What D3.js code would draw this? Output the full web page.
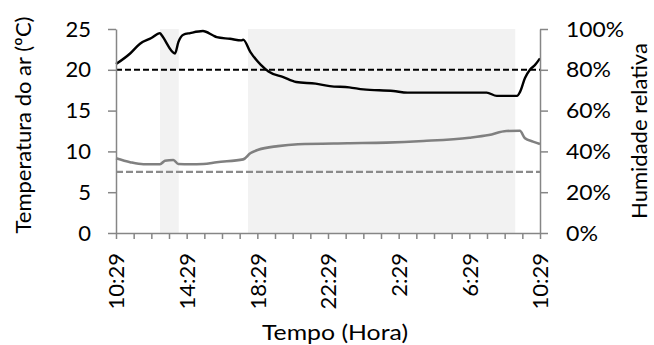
<!DOCTYPE html>
<html>
<head>
<meta charset="utf-8">
<script src="https://cdn.jsdelivr.net/npm/d3@7"></script>
<style>
  html, body { margin: 0; padding: 0; background: #ffffff; }
  svg { display: block; }
  text { font-family: Lato, "Open Sans", sans-serif; fill: #000; }
</style>
</head>
<body>
<svg id="chart" width="654" height="345"></svg>
<script>
// ---- Data (hours elapsed since 10:29) ----
const shadeStart = [2.49, 7.47];
const shadeEnd   = [3.55, 22.6];

const tempHours  = [0, 0.8, 1.36, 2.0, 2.49, 2.6, 3.34, 3.53, 3.81, 4.2, 4.92, 5.5, 5.7, 6.45, 7.1, 7.2, 7.6, 8.2, 8.63, 9.47, 10.2, 11.3, 12.1, 13.2, 14.0, 15.7, 16.5, 20.98, 21.55, 22.7, 22.87, 23.15, 23.43, 23.72, 24];
const tempValues = [20.7, 22.0, 23.2, 23.9, 24.5, 24.2, 22.0, 23.4, 24.3, 24.5, 24.75, 24.2, 24.0, 23.8, 23.6, 23.7, 22.2, 20.6, 19.8, 19.1, 18.5, 18.3, 18.0, 17.85, 17.6, 17.4, 17.2, 17.2, 16.8, 16.8, 17.3, 19.0, 20.0, 20.6, 21.4];

const rhHours  = [0, 0.8, 1.55, 2.49, 2.77, 3.25, 3.53, 4.19, 4.94, 5.7, 7.2, 7.6, 8.05, 9.17, 10.3, 13.1, 15.3, 17.4, 20.0, 21.1, 22.1, 22.86, 23.15, 23.6, 24];
const rhValues = [36.6, 34.7, 33.7, 33.7, 35.4, 35.8, 33.8, 33.7, 33.8, 34.7, 36.1, 39.1, 40.8, 42.6, 43.5, 44.0, 44.3, 45.1, 46.7, 48.0, 50.0, 50.1, 46.4, 44.8, 43.6];

const tempThreshold = 20;
const rhThreshold = 30;

const xTickLabels = ["10:29", "14:29", "18:29", "22:29", "2:29", "6:29", "10:29"];
const yLeftTicks  = [0, 5, 10, 15, 20, 25];
const yRightTicks = [0, 20, 40, 60, 80, 100];

// ---- Layout ----
const L = 116, R = 540, T = 29, B = 233;
const axisColor = "#868686";
const FS = 22;
const svg = d3.select("#chart");

const x = d3.scaleLinear().domain([0, 24]).range([L, R]);
const yT = d3.scaleLinear().domain([0, 25]).range([B, T]);
const yH = d3.scaleLinear().domain([0, 100]).range([B, T]);

// shaded periods
svg.append("g").selectAll("rect")
  .data(shadeStart.map((s, i) => [s, shadeEnd[i]]))
  .join("rect")
  .attr("x", d => x(d[0]))
  .attr("width", d => x(d[1]) - x(d[0]))
  .attr("y", T).attr("height", B - T)
  .attr("fill", "#f2f2f2");

// threshold lines
svg.append("line")
  .attr("x1", L).attr("x2", R)
  .attr("y1", yT(tempThreshold)).attr("y2", yT(tempThreshold))
  .attr("stroke", "#000").attr("stroke-width", 2).attr("stroke-dasharray", "6,3");
svg.append("line")
  .attr("x1", L).attr("x2", R)
  .attr("y1", yH(rhThreshold)).attr("y2", yH(rhThreshold))
  .attr("stroke", "#8a8a8a").attr("stroke-width", 2.2).attr("stroke-dasharray", "7,3");

// series
const tempLine = d3.line().x(d => x(d[0])).y(d => yT(d[1])).curve(d3.curveMonotoneX);
const rhLine = d3.line().x(d => x(d[0])).y(d => yH(d[1])).curve(d3.curveMonotoneX);

svg.append("path")
  .datum(rhHours.map((h, i) => [h, rhValues[i]]))
  .attr("d", rhLine).attr("fill", "none")
  .attr("stroke", "#808080").attr("stroke-width", 2.6).attr("stroke-linejoin", "round");

svg.append("path")
  .datum(tempHours.map((h, i) => [h, tempValues[i]]))
  .attr("d", tempLine).attr("fill", "none")
  .attr("stroke", "#000").attr("stroke-width", 2.4).attr("stroke-linejoin", "round");

// axes
function styleAxis(g) {
  g.selectAll(".domain").attr("stroke", axisColor).attr("stroke-width", 1.5);
  g.selectAll(".tick line").attr("stroke", axisColor).attr("stroke-width", 1.5);
  g.selectAll("text").attr("font-size", FS).attr("fill", "#000")
    .attr("font-family", "Lato, 'Open Sans', sans-serif");
}

const gL = svg.append("g").attr("transform", `translate(${L},0)`)
  .call(d3.axisLeft(yT).tickValues(yLeftTicks).tickSize(8).tickSizeOuter(0).tickPadding(17));
styleAxis(gL);

const gR = svg.append("g").attr("transform", `translate(${R},0)`)
  .call(d3.axisRight(yH).tickValues(yRightTicks).tickSize(8).tickSizeOuter(0).tickPadding(18)
    .tickFormat(d => d + "%"));
styleAxis(gR);
gR.selectAll(".tick text").attr("textLength", d => d === 100 ? 58 : (d === 0 ? 32 : 45))
  .attr("lengthAdjust", "spacingAndGlyphs");

const gX = svg.append("g").attr("transform", `translate(0,${B})`)
  .call(d3.axisBottom(x).tickValues(d3.range(0, 25, 1)).tickSize(6).tickSizeOuter(0)
    .tickFormat(d => (d % 4 === 0 ? xTickLabels[d / 4] : "")));
styleAxis(gX);
gX.selectAll(".tick text")
  .attr("transform", "rotate(-90)")
  .attr("text-anchor", "end")
  .attr("x", -20).attr("y", 0).attr("dy", "0.36em");

// axis titles
svg.append("text")
  .attr("x", 335).attr("y", 340)
  .attr("text-anchor", "middle").attr("font-size", FS)
  .attr("textLength", 146).attr("lengthAdjust", "spacingAndGlyphs")
  .text("Tempo (Hora)");

svg.append("text")
  .attr("transform", `translate(31,${(T + B) / 2 - 6}) rotate(-90)`)
  .attr("text-anchor", "middle").attr("font-size", FS)
  .text("Temperatura do ar (ºC)");

svg.append("text")
  .attr("transform", `translate(647,${(T + B) / 2}) rotate(-90)`)
  .attr("text-anchor", "middle").attr("font-size", FS)
  .text("Humidade relativa");
</script>
</body>
</html>
